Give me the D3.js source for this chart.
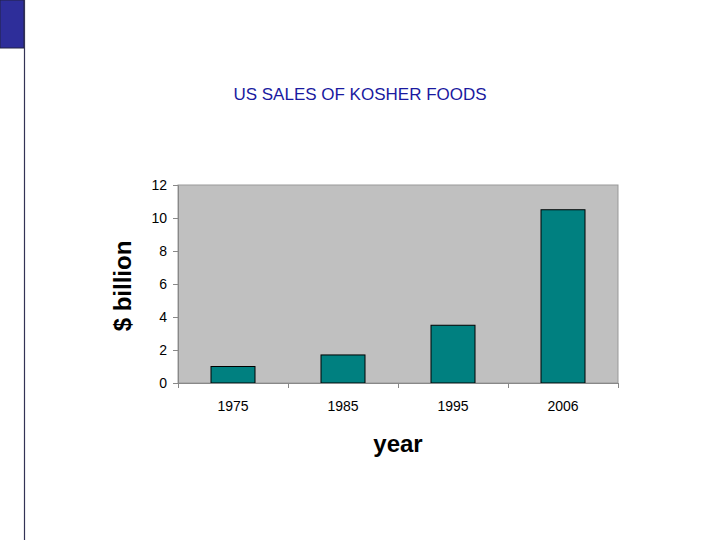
<!DOCTYPE html>
<html><head><meta charset="utf-8">
<script src="https://cdn.jsdelivr.net/npm/d3@7"></script>
<style>body{margin:0;background:#fff}svg{display:block;font-family:Arial,"Liberation Sans",sans-serif}</style>
</head><body>
<script>
const categories = ["1975","1985","1995","2006"];
const values = [1.0, 1.7, 3.5, 10.5];
const yTicks = [0,2,4,6,8,10,12];

const W=720,H=540;
const svg=d3.select("body").append("svg").attr("width",W).attr("height",H);
// slide decoration
svg.append("rect").attr("x",0).attr("y",0).attr("width",24).attr("height",48).attr("fill","#2e2e9a").attr("stroke","#222244");
svg.append("line").attr("x1",24.5).attr("x2",24.5).attr("y1",0).attr("y2",540).attr("stroke","#333355").attr("stroke-width",1.2);

svg.append("text").attr("x",360).attr("y",100).attr("text-anchor","middle")
  .attr("font-size",17).attr("fill","#1a1aa0").text("US SALES OF KOSHER FOODS");

const L=178,R=618,T=185,B=383;
const x=d3.scaleBand().domain(categories).range([L,R]).paddingInner(0.6).paddingOuter(0.3);
const y=d3.scaleLinear().domain([0,12]).range([B,T]);

svg.append("rect").attr("x",L).attr("y",T).attr("width",R-L).attr("height",B-T).attr("fill","#c0c0c0").attr("stroke","#999").attr("stroke-width",1);

svg.selectAll(".bar").data(values).enter().append("rect")
  .attr("x",(d,i)=>x(categories[i])).attr("y",d=>y(d))
  .attr("width",x.bandwidth()).attr("height",d=>B-y(d))
  .attr("fill","#008080").attr("stroke","#000").attr("stroke-width",1);

const ya=svg.append("g").attr("transform",`translate(${L},0)`)
  .call(d3.axisLeft(y).tickValues(yTicks).tickSize(5).tickPadding(6));
ya.select(".domain").attr("stroke","#888");
ya.selectAll(".tick line").attr("stroke","#888");
ya.selectAll("text").attr("font-size",14).attr("fill","#000").attr("font-family","Arial,'Liberation Sans',sans-serif");

const xs=d3.scaleLinear().domain([0,4]).range([L,R]);
const xa=svg.append("g").attr("transform",`translate(0,${B})`)
  .call(d3.axisBottom(xs).tickValues([0,1,2,3,4]).tickSize(5).tickFormat(""));
xa.select(".domain").attr("stroke","#888");
xa.selectAll(".tick line").attr("stroke","#888");
svg.selectAll(".xl").data(categories).enter().append("text")
  .attr("x",d=>x(d)+x.bandwidth()/2).attr("y",411).attr("text-anchor","middle")
  .attr("font-size",14).text(d=>d);

svg.append("text").attr("x",398).attr("y",452).attr("text-anchor","middle")
  .attr("font-size",24).attr("font-weight","bold").text("year");
svg.append("text").attr("transform","translate(131,286) rotate(-90)").attr("text-anchor","middle")
  .attr("font-size",24).attr("font-weight","bold").text("$ billion");
</script>
</body></html>
